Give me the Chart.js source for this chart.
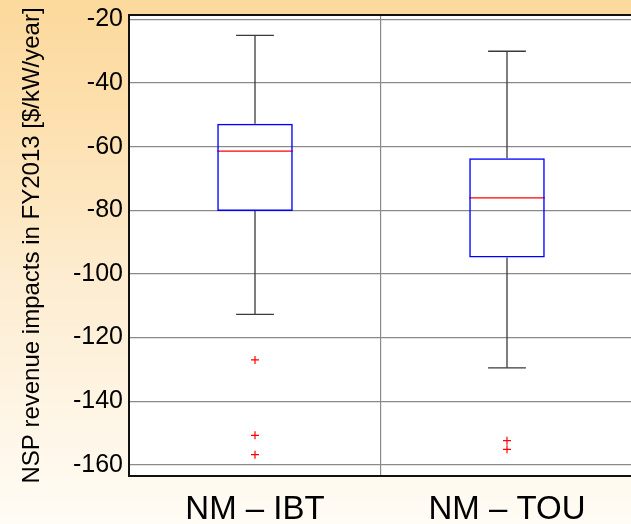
<!DOCTYPE html>
<html>
<head>
<meta charset="utf-8">
<script src="https://cdn.jsdelivr.net/npm/chart.js@4.4.1/dist/chart.umd.min.js"></script>
<style>
    html, body {
        margin: 0;
        padding: 0;
        width: 631px;
        height: 524px;
        overflow: hidden;
        background: linear-gradient(to bottom, #fcd99c 0%, #fde0ae 22%, #fdedd2 55%, #fffcf5 100%);
    }
    #wrap {
        width: 631px;
        height: 524px;
        overflow: hidden;
    }
</style>
</head>
<body>
<div id="wrap"><canvas id="chart" width="640" height="524"></canvas></div>
<script>
    // box plot statistics
    const categories = ['NM \u2013 IBT', 'NM \u2013 TOU'];
    const whiskerHigh = [-25, -30];
    const q3 = [-52.8, -63.6];
    const median = [-61.4, -76.1];
    const q1 = [-80.2, -94.8];
    const whiskerLow = [-112.7, -129.5];
    const outliers = [
        [-127.0, -150.7, -156.8],
        [-152.4, -155.1]
    ];
    const yTicks = [-20, -40, -60, -80, -100, -120, -140, -160];

    const boxHalf = 0.15;
    const capHalf = 0.075;
    const whiskerColor = '#3a3a3a';

    function segment(x1, y1, x2, y2, color, width) {
        return {
            type: 'line',
            data: [{x: x1, y: y1}, {x: x2, y: y2}],
            borderColor: color,
            borderWidth: width,
            pointRadius: 0,
            fill: false
        };
    }

    let datasets = [];

    // boxes from q1 to q3
    // the bar ruler also counts the x tick at 1.5, so its unit is half a category
    datasets.push({
        type: 'bar',
        data: categories.map((c, i) => ({x: i + 1, y: [q1[i], q3[i]]})),
        backgroundColor: 'rgba(0,0,0,0)',
        borderColor: '#0000ff',
        borderWidth: 1.5,
        borderSkipped: false,
        categoryPercentage: 1,
        barPercentage: boxHalf * 4
    });

    categories.forEach((c, i) => {
        let x = i + 1;
        datasets.push(segment(x, q3[i], x, whiskerHigh[i], whiskerColor, 1.3));
        datasets.push(segment(x, q1[i], x, whiskerLow[i], whiskerColor, 1.3));
        datasets.push(segment(x - capHalf, whiskerHigh[i], x + capHalf, whiskerHigh[i], whiskerColor, 1.3));
        datasets.push(segment(x - capHalf, whiskerLow[i], x + capHalf, whiskerLow[i], whiskerColor, 1.3));
        datasets.push(segment(x - boxHalf, median[i], x + boxHalf, median[i], '#ff0000', 1.3));
        datasets.push({
            type: 'scatter',
            data: outliers[i].map(v => ({x: x, y: v})),
            pointStyle: 'cross',
            pointRadius: 4,
            borderColor: '#ff0000',
            borderWidth: 1.2
        });
    });

    const frame = {
        id: 'frame',
        beforeDraw(chart) {
            const {ctx, chartArea: a} = chart;
            ctx.save();
            ctx.fillStyle = '#ffffff';
            ctx.fillRect(a.left, a.top, a.right - a.left, a.bottom - a.top);
            ctx.restore();
        },
        afterDraw(chart) {
            const {ctx, chartArea: a} = chart;
            ctx.save();
            ctx.strokeStyle = '#111111';
            ctx.lineWidth = 2;
            ctx.strokeRect(a.left, a.top, a.right - a.left, a.bottom - a.top);
            ctx.restore();
        }
    };

    new Chart(document.getElementById('chart'), {
        type: 'bar',
        data: {datasets: datasets},
        plugins: [frame],
        options: {
            responsive: false,
            animation: false,
            layout: {padding: {top: 15, right: 7, left: 0, bottom: 0}},
            plugins: {
                legend: {display: false},
                tooltip: {enabled: false}
            },
            scales: {
                x: {
                    type: 'linear',
                    offset: false,
                    min: 0.5,
                    max: 2.5,
                    afterBuildTicks: (scale) => {
                        scale.ticks = [1, 1.5, 2].map(v => ({value: v}));
                    },
                    afterFit: (scale) => {
                        scale.height = 48;
                    },
                    ticks: {
                        autoSkip: false,
                        maxRotation: 0,
                        padding: 14,
                        color: '#000000',
                        font: {family: '"Liberation Sans", Arial, sans-serif', size: 33},
                        callback: (v) => Number.isInteger(v) ? categories[v - 1] : ''
                    },
                    grid: {
                        offset: false,
                        drawTicks: false,
                        lineWidth: 1.2,
                        color: (ctx) => ctx.tick && ctx.tick.value === 1.5 ? '#8a8a8a' : 'rgba(0,0,0,0)'
                    },
                    border: {color: '#111111', width: 2}
                },
                y: {
                    min: -163.5,
                    max: -18.6,
                    afterBuildTicks: (scale) => {
                        scale.ticks = yTicks.map(v => ({value: v}));
                    },
                    afterFit: (scale) => {
                        scale.width = 129;
                        scale.paddingTop = 0;
                        scale.paddingBottom = 0;
                    },
                    ticks: {
                        padding: 6,
                        color: '#000000',
                        font: {family: '"Liberation Sans", Arial, sans-serif', size: 25}
                    },
                    grid: {
                        drawTicks: false,
                        lineWidth: 1.2,
                        color: '#8a8a8a'
                    },
                    border: {color: '#111111', width: 2},
                    title: {
                        display: true,
                        text: 'NSP revenue impacts in FY2013 [$/kW/year]',
                        color: '#000000',
                        padding: {top: 18, bottom: 0},
                        font: {family: '"Liberation Sans", Arial, sans-serif', size: 24}
                    }
                }
            }
        }
    });
</script>
</body>
</html>
